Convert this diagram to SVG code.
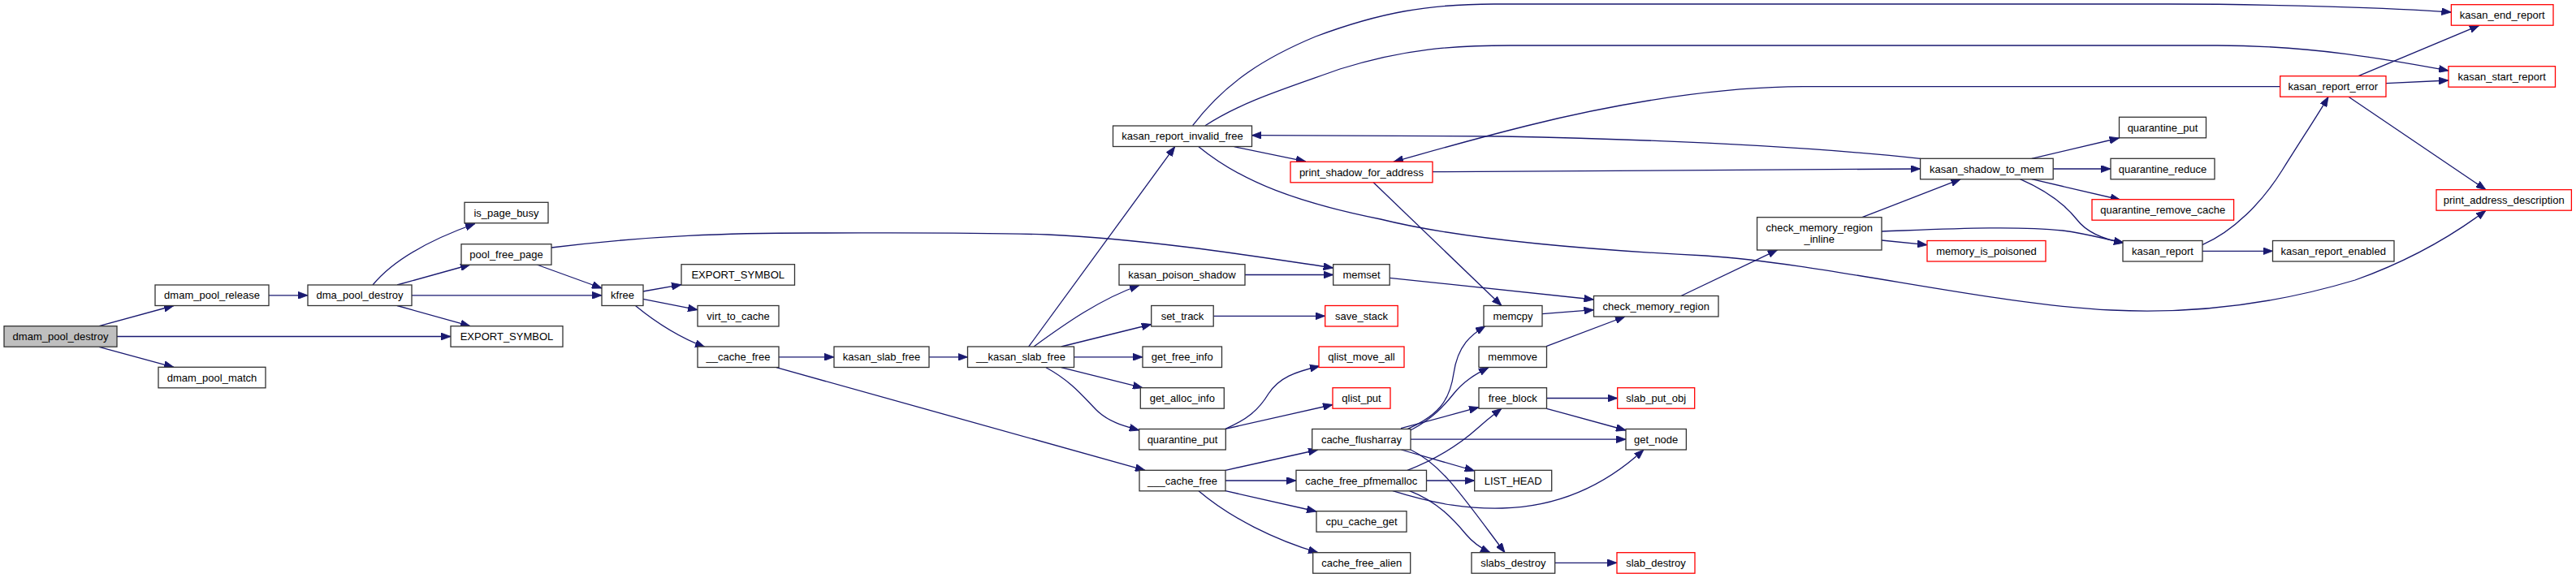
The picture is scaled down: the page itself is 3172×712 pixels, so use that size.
<svg xmlns="http://www.w3.org/2000/svg" width="3172" height="712" viewBox="0 0 3172 712">
<defs>
<style>
.n rect{fill:#fff;stroke:#333;stroke-width:1.3}
.n.red rect{stroke:#f00}
.n.root rect{fill:#bfbfbf}
.n text{font-family:"Liberation Sans",Arial,Helvetica,sans-serif;font-size:13px;fill:#000;text-anchor:middle}
#edges path{fill:none;stroke:#191970;stroke-width:1.3;marker-end:url(#arr)}
</style>
<marker id="arr" markerUnits="userSpaceOnUse" viewBox="0 0 12 9" refX="12" refY="4.5" markerWidth="12" markerHeight="9" orient="auto">
<path d="M0,0 L12,4.5 L0,9 z" fill="#191970" stroke="#191970" stroke-width="0.8"/>
</marker>
</defs>
<rect width="3172" height="712" fill="#fff"/>
<g id="edges">
<path d="M122,401.7 L214,376.5"/>
<path d="M144,414.5 L555,414.5"/>
<path d="M122,427.3 L214,452.3"/>
<path d="M331,363.8 L379,363.8"/>
<path d="M459,351 C490,313 550,288 585,275.5"/>
<path d="M489,351 L579,326"/>
<path d="M507,363.8 L741,363.8"/>
<path d="M489,376.5 L579,401.7"/>
<path d="M661,326 L741,355"/>
<path d="M679,305 C800,290 900,287 1000,287 C1100,287 1200,286 1290,289 C1420,295 1560,318 1641.7,330"/>
<path d="M791.7,359 L839,350.7"/>
<path d="M791.7,368.3 L859,381.7"/>
<path d="M782.7,376.7 C805,395 835,415 868,427.5"/>
<path d="M959,439.8 L1027,439.8"/>
<path d="M956,452.7 L1410,579.3"/>
<path d="M1144,439.8 L1191.5,439.8"/>
<path d="M1266.7,427 L1446.7,180.7"/>
<path d="M1273,427 C1310,400 1355,368 1403,351.5"/>
<path d="M1306.7,427 L1417.7,399.5"/>
<path d="M1322.7,439.8 L1407,439.8"/>
<path d="M1306.7,452.7 L1407,477.7"/>
<path d="M1288,452.7 C1320,470 1335,490 1350,505 C1365,520 1385,525 1402.7,530"/>
<path d="M1468.6,154.7 C1510,100 1560,70 1620,45 C1700,15 1760,5 1840,5 L2670,5 C2800,5 2950,10 3018.4,15"/>
<path d="M1484,154.7 C1530,125 1580,110 1650,85 C1730,60 1790,56 1860,56 L2730,56 C2850,56 2950,75 3015,87"/>
<path d="M1519.6,180.7 L1607.7,198.8"/>
<path d="M1476,180.7 C1530,225 1600,250 1700,270 C1780,290 1900,305 2100,315 C2250,325 2450,375 2600,382 C2700,387 2800,375 2900,345 C2970,320 3020,290 3061,259.3"/>
<path d="M1533,338.5 L1641.7,338.5"/>
<path d="M1494,389.3 L1631.7,389.3"/>
<path d="M1509,528.3 C1535,517 1550,505 1562,485 C1575,465 1595,458 1625,451"/>
<path d="M1509,528.3 L1641,498.5"/>
<path d="M1509,579.3 L1623,554"/>
<path d="M1509,592 L1596,592"/>
<path d="M1509,604.7 L1621,630"/>
<path d="M1476,604.7 C1515,638 1570,665 1623,680.7"/>
<path d="M1764,211.7 C2000,210 2200,208 2364.6,208"/>
<path d="M1690.7,224.3 L1849,376.5"/>
<path d="M1711,342.3 L1962.5,369"/>
<path d="M1899,386.7 L1962.5,381.7"/>
<path d="M1904,426.7 L2001,390"/>
<path d="M1733,528.7 C1770,512 1785,495 1790,460 C1795,425 1812,412 1829,401.7"/>
<path d="M1737,530 C1765,515 1778,500 1790,485 C1802,470 1815,462 1833,452.7"/>
<path d="M1725,527.7 L1821,501.7"/>
<path d="M1737,541.2 L2002,541.2"/>
<path d="M1725.4,554 L1815.7,580"/>
<path d="M1737,554 C1775,572 1800,610 1853,680.7"/>
<path d="M1733,579.3 C1770,565 1800,545 1820,527 C1830,518 1840,510 1849,503.3"/>
<path d="M1756.5,592 L1815.7,592"/>
<path d="M1715,604.7 C1770,622 1810,627 1850,626 C1930,624 1985,590 2024,554"/>
<path d="M1735.6,604.7 C1770,618 1790,640 1805,658 C1815,670 1825,676 1835,680.7"/>
<path d="M1904.5,490.5 L1991.7,490.5"/>
<path d="M1904.5,503.3 L2002,530"/>
<path d="M1914.7,693.3 L1991,693.3"/>
<path d="M2070,364.5 L2188.7,307.8"/>
<path d="M2293,267.7 L2414.3,220.7"/>
<path d="M2317,296 L2373,301.7"/>
<path d="M2317,285 C2400,282 2480,278 2540,284 C2570,288 2590,294 2615,299"/>
<path d="M2364.6,195.3 C2250,183 2100,173 1850,168 L1541.3,166.7"/>
<path d="M2501.8,195.3 L2609.5,170"/>
<path d="M2528.2,208 L2599,208"/>
<path d="M2501.8,220.7 L2610.7,246"/>
<path d="M2487.5,220.7 C2525,237 2545,255 2557,270 C2570,287 2590,295 2615,299"/>
<path d="M2711.8,301.7 C2750,285 2785,250 2810,210 C2835,170 2855,140 2867,119.3"/>
<path d="M2712,309.3 L2798.5,309.3"/>
<path d="M2904,93.7 L3053,31.3"/>
<path d="M2938,102.7 L3015,99"/>
<path d="M2892,119.3 L3061,233.7"/>
<path d="M2807.7,106.7 L2220,106.7 C2120,107 2000,125 1880,155 C1800,175 1750,190 1716,199.3"/>
</g>
<g id="dmam_pool_destroy" class="n root"><rect x="5" y="401.7" width="139" height="25.5"/><text x="74.5" y="419">dmam_pool_destroy</text></g>
<g id="dmam_pool_release" class="n"><rect x="191" y="351" width="140" height="25.5"/><text x="261" y="368.3">dmam_pool_release</text></g>
<g id="dmam_pool_match" class="n"><rect x="195" y="452.3" width="132" height="25.5"/><text x="261" y="469.6">dmam_pool_match</text></g>
<g id="dma_pool_destroy" class="n"><rect x="379" y="351" width="128" height="25.5"/><text x="443" y="368.3">dma_pool_destroy</text></g>
<g id="export_symbol_a" class="n"><rect x="555" y="401.7" width="138" height="25.5"/><text x="624" y="419">EXPORT_SYMBOL</text></g>
<g id="is_page_busy" class="n"><rect x="572" y="249.3" width="103" height="25.5"/><text x="623.5" y="266.6">is_page_busy</text></g>
<g id="pool_free_page" class="n"><rect x="568" y="300.7" width="111" height="25.5"/><text x="623.5" y="318">pool_free_page</text></g>
<g id="kfree" class="n"><rect x="741" y="351" width="51" height="25.5"/><text x="766.5" y="368.3">kfree</text></g>
<g id="export_symbol_b" class="n"><rect x="839" y="325.7" width="139.5" height="25.5"/><text x="908.7" y="343">EXPORT_SYMBOL</text></g>
<g id="virt_to_cache" class="n"><rect x="859" y="376.5" width="100" height="25.5"/><text x="909" y="393.8">virt_to_cache</text></g>
<g id="__cache_free" class="n"><rect x="859" y="427" width="100" height="25.5"/><text x="909" y="444.3">__cache_free</text></g>
<g id="kasan_slab_free" class="n"><rect x="1027" y="427" width="117" height="25.5"/><text x="1085.5" y="444.3">kasan_slab_free</text></g>
<g id="__kasan_slab_free" class="n"><rect x="1191.5" y="427" width="131" height="25.5"/><text x="1257" y="444.3">__kasan_slab_free</text></g>
<g id="kasan_report_invalid_free" class="n"><rect x="1370.5" y="155" width="171" height="25.5"/><text x="1456" y="172.3">kasan_report_invalid_free</text></g>
<g id="kasan_poison_shadow" class="n"><rect x="1378" y="325.7" width="155" height="25.5"/><text x="1455.5" y="343">kasan_poison_shadow</text></g>
<g id="set_track" class="n"><rect x="1417.7" y="376.5" width="76.5" height="25.5"/><text x="1456" y="393.8">set_track</text></g>
<g id="get_free_info" class="n"><rect x="1407" y="427" width="97.5" height="25.5"/><text x="1455.7" y="444.3">get_free_info</text></g>
<g id="get_alloc_info" class="n"><rect x="1404.3" y="477.7" width="103" height="25.5"/><text x="1455.8" y="495">get_alloc_info</text></g>
<g id="quarantine_put_a" class="n"><rect x="1402.7" y="528.5" width="106.6" height="25.5"/><text x="1456" y="545.8">quarantine_put</text></g>
<g id="___cache_free" class="n"><rect x="1403" y="579.3" width="106" height="25.5"/><text x="1456" y="596.6">___cache_free</text></g>
<g id="print_shadow_for_address" class="n red"><rect x="1589" y="199.3" width="175" height="25.5"/><text x="1676.5" y="216.6">print_shadow_for_address</text></g>
<g id="memset" class="n"><rect x="1641.7" y="325.7" width="69.5" height="25.5"/><text x="1676.5" y="343">memset</text></g>
<g id="save_stack" class="n red"><rect x="1631.7" y="376.5" width="89.5" height="25.5"/><text x="1676.5" y="393.8">save_stack</text></g>
<g id="qlist_move_all" class="n red"><rect x="1624" y="427" width="105" height="25.5"/><text x="1676.5" y="444.3">qlist_move_all</text></g>
<g id="qlist_put" class="n red"><rect x="1641" y="477.7" width="71" height="25.5"/><text x="1676.5" y="495">qlist_put</text></g>
<g id="cache_flusharray" class="n"><rect x="1615.7" y="528.5" width="121.3" height="25.5"/><text x="1676.4" y="545.8">cache_flusharray</text></g>
<g id="cache_free_pfmemalloc" class="n"><rect x="1596" y="579.3" width="160.5" height="25.5"/><text x="1676.3" y="596.6">cache_free_pfmemalloc</text></g>
<g id="cpu_cache_get" class="n"><rect x="1621" y="629.7" width="111" height="25.5"/><text x="1676.5" y="647">cpu_cache_get</text></g>
<g id="cache_free_alien" class="n"><rect x="1616.7" y="680.7" width="120" height="25.5"/><text x="1676.7" y="698">cache_free_alien</text></g>
<g id="memcpy" class="n"><rect x="1827" y="376.5" width="72" height="25.5"/><text x="1863" y="393.8">memcpy</text></g>
<g id="memmove" class="n"><rect x="1821" y="427" width="83.5" height="25.5"/><text x="1862.7" y="444.3">memmove</text></g>
<g id="free_block" class="n"><rect x="1821" y="477.7" width="83.5" height="25.5"/><text x="1862.7" y="495">free_block</text></g>
<g id="LIST_HEAD" class="n"><rect x="1815.7" y="579.3" width="95" height="25.5"/><text x="1863.2" y="596.6">LIST_HEAD</text></g>
<g id="slabs_destroy" class="n"><rect x="1812" y="680.7" width="102.7" height="25.5"/><text x="1863.3" y="698">slabs_destroy</text></g>
<g id="check_memory_region" class="n"><rect x="1962.5" y="364.5" width="153.5" height="25.5"/><text x="2039.2" y="381.8">check_memory_region</text></g>
<g id="slab_put_obj" class="n red"><rect x="1991.7" y="477.7" width="95" height="25.5"/><text x="2039.2" y="495">slab_put_obj</text></g>
<g id="get_node" class="n"><rect x="2002" y="528.5" width="74.4" height="25.5"/><text x="2039.2" y="545.8">get_node</text></g>
<g id="slab_destroy" class="n red"><rect x="1991" y="680.7" width="96" height="25.5"/><text x="2039" y="698">slab_destroy</text></g>
<g id="check_memory_region_inline" class="n"><rect x="2163.6" y="267.7" width="153.4" height="40.3"/><text x="2240.3" y="284.5">check_memory_region</text><text x="2240.3" y="299">_inline</text></g>
<g id="kasan_shadow_to_mem" class="n"><rect x="2364.6" y="195.3" width="163.6" height="25.5"/><text x="2446.4" y="212.6">kasan_shadow_to_mem</text></g>
<g id="memory_is_poisoned" class="n red"><rect x="2373" y="296.5" width="146" height="25.5"/><text x="2446" y="313.8">memory_is_poisoned</text></g>
<g id="quarantine_put_b" class="n"><rect x="2609.5" y="144.3" width="107" height="25.5"/><text x="2663" y="161.6">quarantine_put</text></g>
<g id="quarantine_reduce" class="n"><rect x="2599" y="195.3" width="128" height="25.5"/><text x="2663" y="212.6">quarantine_reduce</text></g>
<g id="quarantine_remove_cache" class="n red"><rect x="2576" y="245.7" width="174.6" height="25.5"/><text x="2663.3" y="263">quarantine_remove_cache</text></g>
<g id="kasan_report" class="n"><rect x="2614" y="296.5" width="98" height="25.5"/><text x="2663" y="313.8">kasan_report</text></g>
<g id="kasan_report_error" class="n red"><rect x="2807.7" y="93.7" width="130.3" height="25.5"/><text x="2872.8" y="111">kasan_report_error</text></g>
<g id="kasan_report_enabled" class="n"><rect x="2798.5" y="296.5" width="149.5" height="25.5"/><text x="2873.2" y="313.8">kasan_report_enabled</text></g>
<g id="kasan_end_report" class="n red"><rect x="3018.4" y="5.7" width="125.6" height="25.5"/><text x="3081.2" y="23">kasan_end_report</text></g>
<g id="kasan_start_report" class="n red"><rect x="3015" y="81.7" width="131.5" height="25.5"/><text x="3080.7" y="99">kasan_start_report</text></g>
<g id="print_address_description" class="n red"><rect x="3000" y="233.7" width="166.4" height="25.5"/><text x="3083.2" y="251">print_address_description</text></g>
</svg>
